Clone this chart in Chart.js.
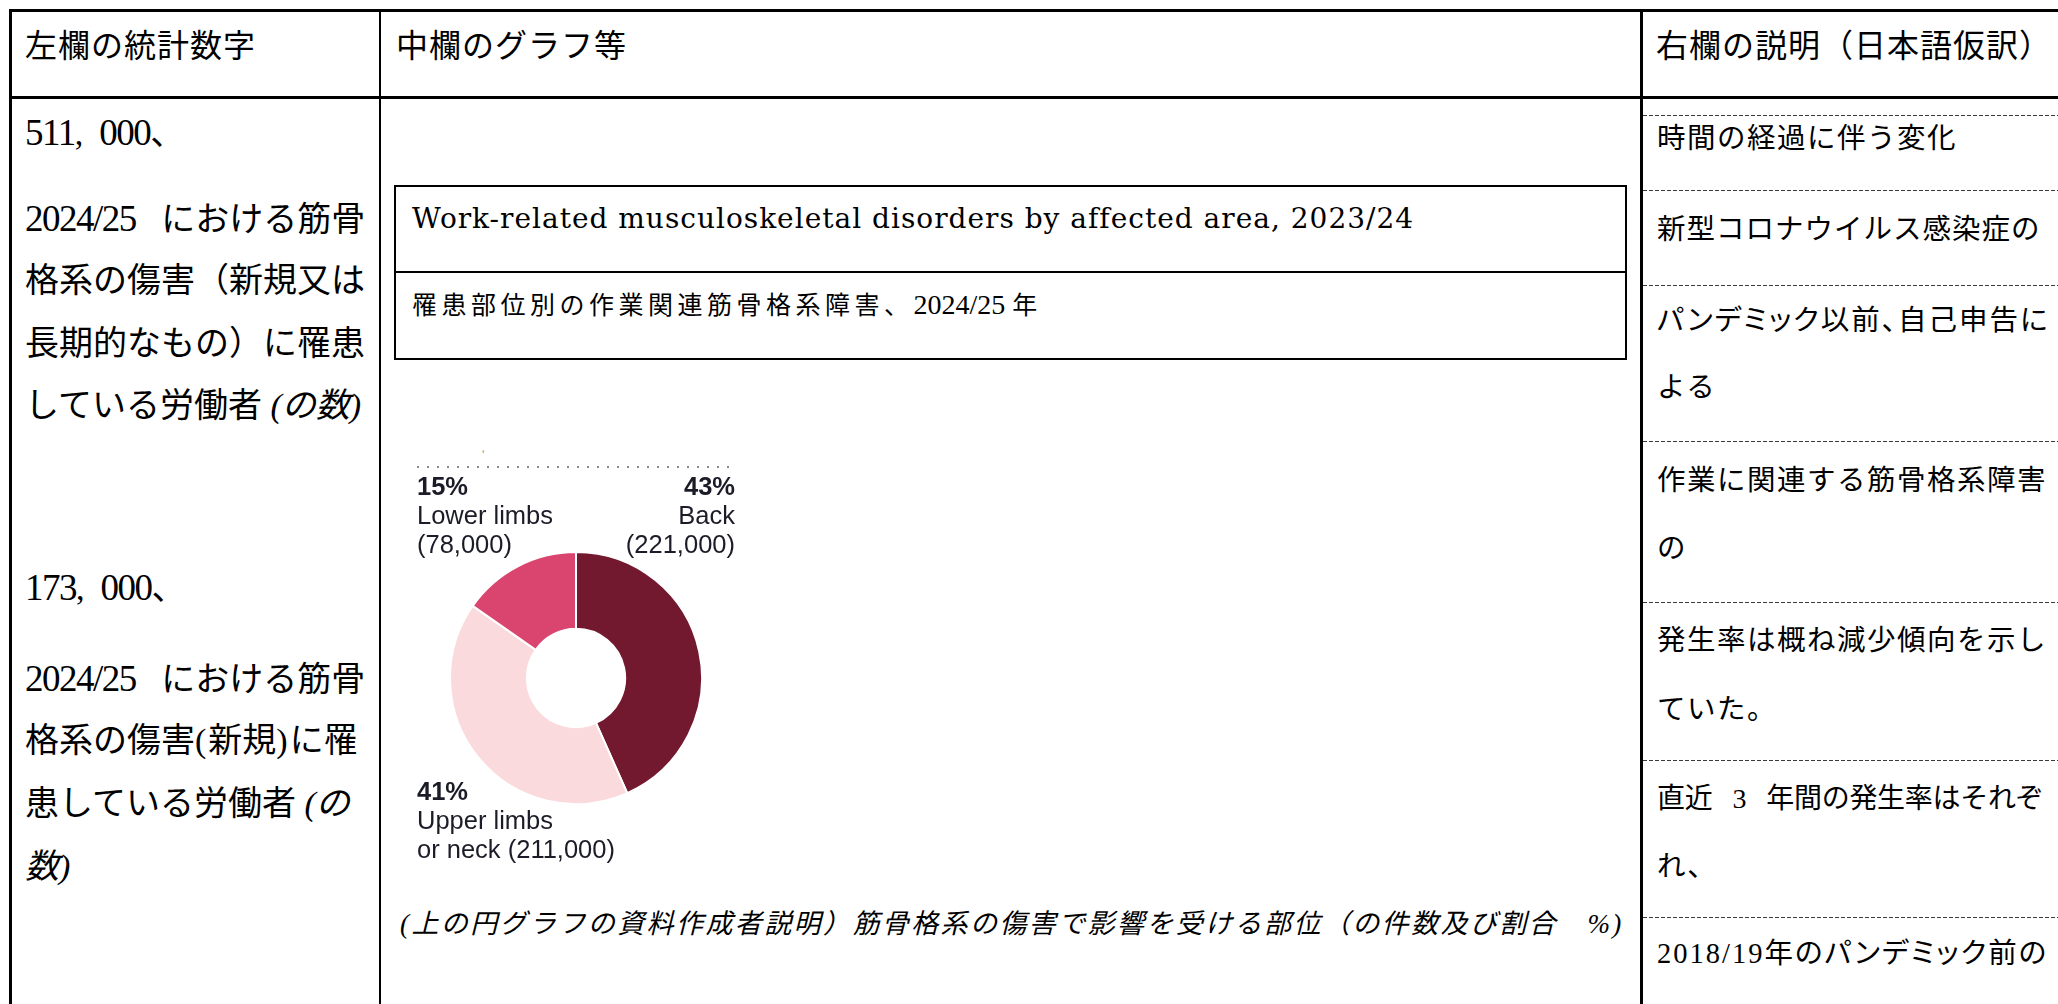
<!DOCTYPE html>
<html lang="ja">
<head>
<meta charset="utf-8">
<title>罹患部位別の作業関連筋骨格系障害</title>
<script src="https://cdn.jsdelivr.net/npm/chart.js@4.4.1/dist/chart.umd.min.js"></script>
<style>
html, body { margin: 0; padding: 0; background: #fff; }
body { width: 2058px; height: 1004px; position: relative; overflow: hidden; color: #000; }
.ln { position: absolute; background: #000; }
.dash { position: absolute; left: 1643px; width: 415px; height: 1px;
        background: repeating-linear-gradient(to right, #3a3a3a 0 4px, transparent 4px 6px); }
.t { position: absolute; white-space: pre; line-height: 40px; height: 40px; }
.hd { font-family: "Noto Sans CJK JP", sans-serif; font-size: 32px; letter-spacing: 1px; }
.mc { font-family: "Liberation Serif", "Noto Sans CJK JP", serif; font-size: 34px; letter-spacing: 0; }
.dg { font-size: 37px; letter-spacing: -1.5px; }
.rc { font-family: "Liberation Serif", "Noto Sans CJK JP", serif; font-size: 28.5px; letter-spacing: 1.5px; left: 1657px; }
.pa { font-feature-settings: "palt"; }
.it { font-style: italic; }
.box { position: absolute; left: 394px; top: 185px; width: 1229px; height: 171px; border: 2px solid #000; }
.title { font-family: "DejaVu Serif", serif; font-size: 28px; letter-spacing: 1px; left: 412px; }
.sub { font-family: "Liberation Serif", "Noto Sans CJK JP", serif; font-size: 25px; letter-spacing: 4.5px; left: 412px; }
.sub .num { font-size: 28px; letter-spacing: 0; }
.cap { font-family: "Liberation Serif", "Noto Sans CJK JP", serif; font-size: 27px; letter-spacing: 2.4px; left: 400px; font-style: italic; }
#donutWrap { position: absolute; left: 449px; top: 551px; width: 254px; height: 254px; }
.lab { position: absolute; font-family: "Liberation Sans", Arial, sans-serif; font-size: 25.5px;
       line-height: 29px; color: #1c1c28; white-space: nowrap; }
.lab b { font-weight: bold; }
.dots { position: absolute; left: 417px; top: 466px; width: 320px; height: 2px;
        background: repeating-linear-gradient(to right, #8a8a8a 0 2px, transparent 2px 10px); }
</style>
</head>
<body>

<!-- table rules -->
<div class="ln" style="left:9px; top:9px; width:2049px; height:3px;"></div>
<div class="ln" style="left:9px; top:96px; width:2049px; height:3px;"></div>
<div class="ln" style="left:9px; top:9px; width:3px; height:995px;"></div>
<div class="ln" style="left:379px; top:9px; width:2px; height:995px;"></div>
<div class="ln" style="left:1640px; top:9px; width:3px; height:995px;"></div>

<div class="dash" style="top:115px;"></div>
<div class="dash" style="top:190px;"></div>
<div class="dash" style="top:285px;"></div>
<div class="dash" style="top:441px;"></div>
<div class="dash" style="top:602px;"></div>
<div class="dash" style="top:760px;"></div>
<div class="dash" style="top:917px;"></div>

<!-- header row -->
<div class="t hd" style="left:25px; top:23px;">左欄の統計数字</div>
<div class="t hd" style="left:396px; top:23px;">中欄のグラフ等</div>
<div class="t hd" style="left:1656px; top:23px;">右欄の説明（日本語仮訳）</div>

<!-- left column -->
<div class="t mc" style="left:25px; top:113px;"><span class="dg">511</span><span style="letter-spacing:16px">,</span><span class="dg">000</span>、</div>
<div class="t mc" style="left:25px; top:199px;"><span class="dg">2024/25</span>   における筋骨</div>
<div class="t mc" style="left:25px; top:261px;">格系の傷害（新規又は</div>
<div class="t mc" style="left:25px; top:324px;">長期的なもの）に罹患</div>
<div class="t mc" style="left:25px; top:386px;">している労働者 <span class="it">(の数)</span></div>

<div class="t mc" style="left:25px; top:568px;"><span class="dg">173</span><span style="letter-spacing:16px">,</span><span class="dg">000</span>、</div>
<div class="t mc" style="left:25px; top:659px;"><span class="dg">2024/25</span>   における筋骨</div>
<div class="t mc" style="left:25px; top:721px;">格系の傷害<span style="letter-spacing:2px">(</span>新規<span style="letter-spacing:2px">)</span>に罹</div>
<div class="t mc" style="left:25px; top:784px;">患している労働者 <span class="it">(の</span></div>
<div class="t mc" style="left:25px; top:847px;"><span class="it">数)</span></div>

<!-- middle column -->
<div class="box"></div>
<div class="ln" style="left:394px; top:271px; width:1233px; height:2px;"></div>
<div class="t title" style="top:199px;">Work-related musculoskeletal disorders by affected area, 2023/24</div>
<div class="t sub" style="top:285px;">罹患部位別の作業関連筋骨格系障害、<span class="num">2024/25 </span>年</div>

<div class="dots"></div>
<div class="lab" style="left:482px; top:440px; font-size:13px; color:#999;">ʹ</div>
<div id="donutWrap"><canvas id="donut"></canvas></div>

<div class="t cap" style="top:904px;">(上の円グラフの資料作成者説明）筋骨格系の傷害で影響を受ける部位（の件数及び割合　%)</div>

<!-- right column -->
<div class="t rc" style="top:119px;">時間の経過に伴う変化</div>
<div class="t rc" style="top:210px; letter-spacing:1px;">新型コロナウイルス感染症の</div>
<div class="t rc pa" style="top:301px; letter-spacing:2px;">パンデミック以前、自己申告に</div>
<div class="t rc" style="top:368px;">よる</div>
<div class="t rc" style="top:461px;">作業に関連する筋骨格系障害</div>
<div class="t rc" style="top:529px;">の</div>
<div class="t rc" style="top:621px;">発生率は概ね減少傾向を示し</div>
<div class="t rc" style="top:690px;">ていた。</div>
<div class="t rc" style="top:779px; font-size:28px; letter-spacing:-0.3px;">直近   3   年間の発生率はそれぞ</div>
<div class="t rc" style="top:847px;">れ、</div>
<div class="t rc pa" style="top:934px; letter-spacing:2px;">2018/19年のパンデミック前の</div>

<script>
// affected body area, workers (2024/25 LFS estimate) and share of total
const areaLines = [['Back'], ['Upper limbs', 'or neck'], ['Lower limbs']];
const workers = [221000, 211000, 78000];
const shares = [43, 41, 15];

const areaNames = areaLines.map(function(l) { return l.join(' '); });

// doughnut, starting at 12 o'clock and running clockwise
new Chart(document.getElementById('donut'), {
    type: 'doughnut',
    data: {
        labels: areaNames,
        datasets: [{
            data: workers,
            backgroundColor: ['#72182f', '#fadadd', '#da456f'],
            borderColor: '#ffffff',
            borderWidth: 2,
            hoverOffset: 0
        }]
    },
    options: {
        responsive: true,
        maintainAspectRatio: false,
        animation: false,
        events: [],
        cutout: '39%',
        layout: { padding: 0 },
        plugins: {
            legend: { display: false },
            tooltip: { enabled: false }
        }
    }
});

// slice labels around the ring
const labelSpots = [
    { right: 2058 - 735, top: 472, align: 'right' },
    { left: 417, top: 777, align: 'left' },
    { left: 417, top: 472, align: 'left' }
];

areaLines.forEach(function(lines, i) {
    const count = '(' + workers[i].toLocaleString('en-US') + ')';
    const rows = lines.slice();
    if (rows.length > 1) {
        rows[rows.length - 1] += ' ' + count;
    } else {
        rows.push(count);
    }
    const spot = labelSpots[i];
    const div = document.createElement('div');
    div.className = 'lab';
    div.style.top = spot.top + 'px';
    div.style.textAlign = spot.align;
    if (spot.align === 'right') div.style.right = spot.right + 'px';
    else div.style.left = spot.left + 'px';
    div.innerHTML = '<b>' + shares[i] + '%</b><br>' + rows.join('<br>');
    document.body.appendChild(div);
});
</script>
</body>
</html>
